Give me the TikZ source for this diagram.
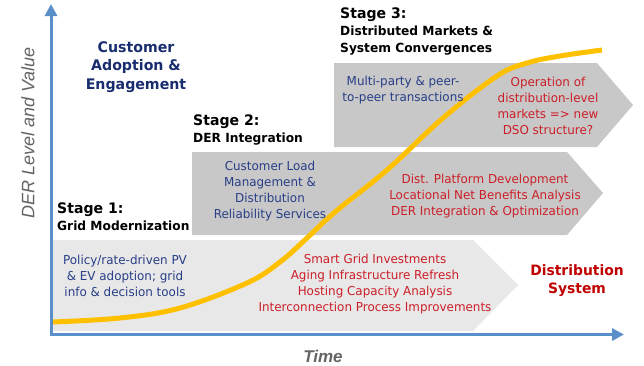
\documentclass[tikz,border=0pt]{standalone}
\usepackage{fontspec}
\setmainfont{DejaVu Sans}[FakeStretch=0.97]
\newfontfamily\arialfont{Liberation Sans}
\usetikzlibrary{arrows.meta}
\definecolor{axisblue}{RGB}{91,143,201}
\definecolor{curveyellow}{RGB}{255,192,0}
\definecolor{txtblue}{RGB}{40,62,135}
\definecolor{txtred}{RGB}{204,30,40}
\definecolor{hdblue}{RGB}{25,45,110}
\definecolor{sysred}{RGB}{192,0,0}
\definecolor{boxlight}{RGB}{232,232,232}
\definecolor{boxdark}{RGB}{200,200,200}
\definecolor{lblgray}{RGB}{100,100,100}
\newcommand\stgbig{\bfseries\fontsize{14.5}{17}\selectfont}
\tikzset{
  body/.style={align=center, inner sep=0pt, font=\fontsize{12.3}{16}\selectfont},
  bluetxt/.style={body, text=txtblue},
  redtxt/.style={body, text=txtred},
  stagehd/.style={align=left, anchor=north west, inner sep=0pt, font=\bfseries\fontsize{12.6}{17}\selectfont},
}
\begin{document}
\begin{tikzpicture}[x=1pt,y=-1pt]
\useasboundingbox (0,0) rectangle (644,365);
% boxes
\fill[boxlight] (53,240) -- (473,240) -- (518,285) -- (473,331) -- (53,331) -- cycle;
\fill[boxdark] (192,152) -- (567,152) -- (603,193) -- (567,235) -- (192,235) -- cycle;
\fill[boxdark] (334,63) -- (597,63) -- (633,105) -- (597,147) -- (334,147) -- cycle;
% curve
\draw[curveyellow, line width=5pt, line cap=butt]
  plot[smooth, tension=0.6] coordinates {(52,322) (120,318) (180,308) (247,283) (280,262) (307,238) (335,212) (387,170) (443,118) (497,76) (527,63) (560,56) (602,50)};
% axes
\draw[axisblue, line width=3pt, {Triangle[length=12pt,width=12pt]}-{Triangle[length=12pt,width=12pt]}]
  (51,4) -- (51,334.5) -- (624,334.5);
% axis labels
\node[rotate=90, text=lblgray, font=\arialfont\itshape\fontsize{18}{20}\selectfont, inner sep=0pt] (ylab) at (28,133) {DER Level and Value};
\node[text=lblgray, font=\arialfont\bfseries\itshape\fontsize{17}{20}\selectfont, inner sep=0pt] (xlab) at (323,356) {Time};
% headings
\node[text=hdblue, align=center, inner sep=0pt, font=\bfseries\fontsize{14.6}{18.5}\selectfont] (cae) at (136,67) {Customer\\Adoption \&\\Engagement};
\node[stagehd] (s1) at (57,203) {{\stgbig Stage 1:}\\Grid Modernization};
\node[stagehd] (s2) at (193,115) {{\stgbig Stage 2:}\\DER Integration};
\node[stagehd] (s3) at (340,8) {{\stgbig Stage 3:}\\Distributed Markets \&\\System Convergences};
% box texts
\node[bluetxt] (b1) at (125,276) {Policy/rate-driven PV\\\& EV adoption; grid\\info \& decision tools};
\node[redtxt] (r1) at (375,284) {Smart Grid Investments\\Aging Infrastructure Refresh\\Hosting Capacity Analysis\\Interconnection Process Improvements};
\node[bluetxt] (b2) at (270,191) {Customer Load\\Management \&\\Distribution\\Reliability Services};
\node[redtxt] (r2) at (485,196) {Dist. Platform Development\\Locational Net Benefits Analysis\\DER Integration \& Optimization};
\node[bluetxt] (b3) at (403,90) {Multi-party \& peer-\\to-peer transactions};
\node[redtxt] (r3) at (548,106) {Operation of\\distribution-level\\markets => new\\DSO structure?};
\node[text=sysred, align=center, inner sep=0pt, font=\bfseries\fontsize{14.3}{18}\selectfont] (ds) at (577,281) {Distribution\\System};
\end{tikzpicture}
\end{document}
